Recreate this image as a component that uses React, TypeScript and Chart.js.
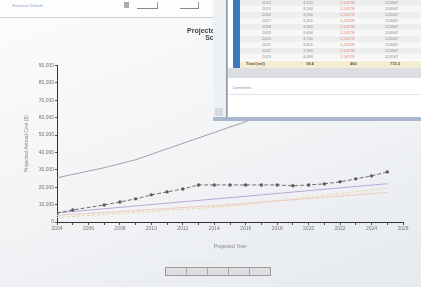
import React, { useEffect, useRef } from "react";
import { Chart, registerables } from "chart.js";

Chart.register(...registerables);

// ---- data ----
const xTickYears = [2004, 2006, 2008, 2010, 2012, 2014, 2016, 2018, 2020, 2022, 2024, 2026];
const yTickMax = 90000;

const upperYears = [2004, 2007, 2009, 2016, 2025];
const upperValues = [25400, 31200, 35800, 57700, 84000];

const markerYears = [2004, 2005, 2007, 2008, 2009, 2010, 2011, 2012, 2013, 2014, 2015, 2016, 2017, 2018, 2019, 2020, 2021, 2022, 2023, 2024, 2025];
const markerValues = [5200, 6900, 9800, 11500, 13300, 15600, 17300, 19000, 21300, 21300, 21300, 21300, 21300, 21300, 20800, 21300, 21900, 23100, 24800, 26500, 28800];

const purpleYears = [2004, 2015, 2025];
const purpleValues = [5200, 14000, 22000];

const pinkYears = [2004, 2015, 2025];
const pinkValues = [3800, 10000, 17000];

const yellowYears = [2004, 2015, 2025];
const yellowValues = [2600, 9000, 19500];

const seriesNames = ["Upper Bound", "Projected", "Scenario A", "Scenario B", "Scenario C"];

const tableYears = ["2014", "2015", "2016", "2017", "2018", "2019", "2020", "2021", "2022", "2023"];
const tableColA = ["3,120", "3,240", "3,310", "3,420", "3,560", "3,690", "3,710", "3,850", "3,960", "4,080"];
const tableColB = ["1,24578", "1,24578", "1,24578", "1,24578", "1,24578", "1,24578", "1,24578", "1,24578", "1,24578", "1,24578"];
const tableColC = ["124567", "124567", "124567", "124567", "124567", "124567", "124567", "124567", "124567", "124567"];
const tableTotal = ["Total (mil)", "18.4", "460", "715.3"];

const pts = (xs: number[], ys: number[]) => xs.map((x, i) => ({ x, y: ys[i] }));

export default function App() {
  const ref = useRef<HTMLCanvasElement | null>(null);

  useEffect(() => {
    document.body.style.margin = "0";
    const ctx = ref.current!.getContext("2d")!;
    const chart = new Chart(ctx, {
      type: "line",
      data: {
        datasets: [
          {
            label: seriesNames[0],
            data: pts(upperYears, upperValues),
            borderColor: "#ab9dab",
            borderWidth: 1,
            pointRadius: 0,
            tension: 0,
          },
          {
            label: seriesNames[1],
            data: pts(markerYears, markerValues),
            borderColor: "#707070",
            backgroundColor: "#5a5a5a",
            borderWidth: 1,
            borderDash: [4, 2],
            pointRadius: 1.7,
            pointStyle: "circle",
            pointBorderWidth: 0,
          },
          {
            label: seriesNames[2],
            data: pts(purpleYears, purpleValues),
            borderColor: "#bca6d8",
            borderWidth: 1,
            pointRadius: 0,
          },
          {
            label: seriesNames[3],
            data: pts(pinkYears, pinkValues),
            borderColor: "#efc9c2",
            borderWidth: 1,
            pointRadius: 0,
          },
          {
            label: seriesNames[4],
            data: pts(yellowYears, yellowValues),
            borderColor: "#ead4a2",
            borderWidth: 1,
            borderDash: [3, 2],
            pointRadius: 0,
          },
        ],
      },
      options: {
        animation: false,
        responsive: false,
        maintainAspectRatio: false,
        layout: { padding: { left: 24, right: 18, top: 0, bottom: 33 } },
        plugins: {
          legend: { display: false },
          tooltip: { enabled: false },
          title: {
            display: true,
            text: ["Projected Rates", "Scen"],
            color: "#444",
            font: { size: 7, weight: "bold", family: "Arial, Liberation Sans, sans-serif", lineHeight: 1.1 },
            padding: { top: 27, bottom: 23 },
          },
        },
        scales: {
          x: {
            type: "linear",
            min: xTickYears[0],
            max: xTickYears[xTickYears.length - 1],
            afterFit: (s: any) => {
              s.height = 32;
            },
            ticks: {
              stepSize: 1,
              autoSkip: false,
              maxRotation: 0,
              padding: 1,
              color: "#777",
              font: { size: 5, family: "Arial, Liberation Sans, sans-serif" },
              callback: (v: any) => (xTickYears.includes(Number(v)) ? String(v) : ""),
            },
            grid: { drawOnChartArea: false, drawTicks: true, tickLength: 3, color: "#555" },
            border: { color: "#333", width: 1 },
            title: {
              display: true,
              text: "Projected Year",
              color: "#888",
              font: { size: 5, family: "Arial, Liberation Sans, sans-serif" },
            },
          },
          y: {
            min: 0,
            max: yTickMax,
            afterFit: (s: any) => {
              s.width = 33;
            },
            ticks: {
              stepSize: 5000,
              padding: 1,
              color: "#6f6f6f",
              font: { size: 5, family: "Arial, Liberation Sans, sans-serif" },
              callback: (v: any) => Number(v).toLocaleString("en-US"),
            },
            grid: { drawOnChartArea: false, drawTicks: true, tickLength: 2, color: "#555" },
            border: { color: "#333", width: 1 },
            title: {
              display: true,
              text: "Projected Annual Cost ($)",
              color: "#888",
              font: { size: 5, family: "Arial, Liberation Sans, sans-serif" },
              padding: { top: 0, bottom: 2 },
            },
          },
        },
      },
    });
    return () => chart.destroy();
  }, []);

  const cell = (txt: string, left: number, color = "#8a8a8a", bold = false) => (
    <span style={{ position: "absolute", left, top: 0, fontSize: 4, lineHeight: "6px", color, fontWeight: bold ? 700 : 400 }}>{txt}</span>
  );

  return (
    <div
      style={{
        position: "fixed",
        left: 0,
        top: 0,
        width: 421,
        height: 287,
        overflow: "hidden",
        background: "linear-gradient(160deg, #fbfcfc 0%, #f1f3f5 55%, #e6e9ee 100%)",
        fontFamily: "Arial, Liberation Sans, sans-serif",
      }}
    >
      {/* toolbar */}
      <div style={{ position: "absolute", left: 0, top: 0, width: 421, height: 17, background: "#fdfdfd", borderBottom: "1px solid #cfd3d8" }}>
        <span style={{ position: "absolute", left: 12, top: 3, fontSize: 4, color: "#8aa0c0" }}>Scenario: Default</span>
        <div style={{ position: "absolute", left: 124, top: 2, width: 5, height: 6, background: "#aaa" }} />
        <div style={{ position: "absolute", left: 137, top: 2, width: 20, height: 6, borderBottom: "1px solid #888", borderRight: "1px solid #999" }} />
        <div style={{ position: "absolute", left: 180, top: 2, width: 18, height: 6, borderBottom: "1px solid #888", borderRight: "1px solid #999" }} />
      </div>

      <canvas ref={ref} width={421} height={287} style={{ position: "absolute", left: 0, top: 0, width: 421, height: 287 }} />

      {/* overlay window with table */}
      <div style={{ position: "absolute", left: 213, top: 0, width: 208, height: 121, background: "#a9b8cc" }}>
        <div style={{ position: "absolute", left: 0, top: 0, width: 13, height: 117, background: "#eef1f4", borderRight: "1px solid #8f99a6" }}>
          <div style={{ position: "absolute", left: 2, top: 108, width: 8, height: 8, background: "#d6dbe1" }} />
        </div>
        <div style={{ position: "absolute", left: 15, top: 0, width: 193, height: 117, background: "#ffffff" }}>
          <div style={{ position: "absolute", left: 5, top: 0, width: 7, height: 68, background: "#3b78bf" }} />
          {tableYears.map((yr, i) => (
            <div
              key={yr}
              style={{ position: "absolute", left: 12, top: i * 6, width: 181, height: 6, background: i % 2 ? "#f7f7f8" : "#eceef0" }}
            >
              {cell(yr, 22)}
              {cell(tableColA[i], 63)}
              {cell(tableColB[i], 100, "#e67a7a")}
              {cell(tableColC[i], 145)}
            </div>
          ))}
          <div style={{ position: "absolute", left: 12, top: 61, width: 181, height: 7, background: "#f3eed3" }}>
            {cell(tableTotal[0], 6, "#555", true)}
            {cell(tableTotal[1], 66, "#555", true)}
            {cell(tableTotal[2], 110, "#555", true)}
            {cell(tableTotal[3], 150, "#555", true)}
          </div>
          <div style={{ position: "absolute", left: 0, top: 68, width: 193, height: 10, background: "#dcdee1" }} />
          <span style={{ position: "absolute", left: 4, top: 85, fontSize: 4, color: "#7f94b8" }}>Comments</span>
          <div style={{ position: "absolute", left: 0, top: 94, width: 193, height: 1, background: "#e2e4e7" }} />
        </div>
      </div>

      {/* bottom button group */}
      <div style={{ position: "absolute", left: 165, top: 262, width: 110, height: 1, background: "#e6e8eb" }} />
      <div style={{ position: "absolute", left: 165, top: 267, width: 104, height: 7, border: "1px solid #9a9a9a", background: "#dedfe1", display: "flex" }}>
        {["", "", "", "", ""].map((_, i) => (
          <div key={i} style={{ flex: 1, borderRight: i < 4 ? "1px solid #a8a8a8" : "none" }} />
        ))}
      </div>
    </div>
  );
}
